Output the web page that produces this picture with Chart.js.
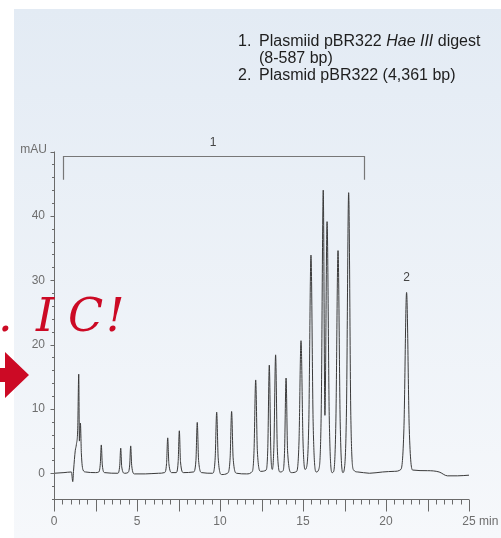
<!DOCTYPE html>
<html>
<head>
<meta charset="utf-8">
<script src="https://cdn.jsdelivr.net/npm/chart.js@4.4.1/dist/chart.umd.min.js"></script>
<style>
  html, body { margin: 0; padding: 0; background: #fff; }
  #wrap { width: 501px; height: 538px; }
</style>
</head>
<body>
<div id="wrap"><canvas id="chart" width="501" height="538"></canvas></div>
<script>
// retention time (min) and absorbance (mAU)
const times = [
  0.0, 0.6, 1.05, 1.13, 1.18, 1.28, 1.35, 1.43, 1.49, 1.53, 1.59, 1.65, 1.75, 1.9,
  2.5, 2.7, 2.79, 2.85, 2.91, 3.05,
  3.85, 3.96, 4.02, 4.08, 4.25, 4.45, 4.56, 4.62, 4.68, 4.85,
  5.5, 6.3, 6.65, 6.78, 6.85, 6.92, 7.1,
  7.35, 7.48, 7.55, 7.62, 7.8,
  8.4, 8.55, 8.63, 8.71, 8.9,
  9.55, 9.71, 9.8, 9.89, 10.1,
  10.45, 10.61, 10.7, 10.79, 11.0,
  11.6, 11.95, 12.05, 12.15, 12.25, 12.45,
  12.78, 12.88, 12.97, 13.06, 13.15, 13.25, 13.35, 13.45, 13.62,
  13.8, 13.89, 13.98, 14.07, 14.3,
  14.62, 14.76, 14.88, 15.0, 15.12,
  15.2, 15.35, 15.48, 15.61, 15.8,
  15.95, 16.1, 16.22, 16.32, 16.45, 16.58, 16.75,
  16.85, 16.98, 17.11, 17.24, 17.4,
  17.48, 17.62, 17.75, 17.88, 18.05,
  18.3, 19.0, 19.8, 20.5, 20.9, 21.08, 21.24, 21.4, 21.6,
  22.5, 23.2, 23.7, 24.3, 25.0
];
const signal = [
  0.0, 0.1, 0.2, -1.3, 0.5, 3.5, 4.5, 7.0, 15.4, 5.0, 7.8, 3.0, 0.5, 0.2,
  0.1, 0.2, 1.5, 4.4, 1.3, 0.1,
  0.0, 1.2, 3.9, 1.0, 0.0, 0.1, 1.3, 4.25, 1.2, -0.1,
  -0.1, 0.0, 0.1, 1.5, 5.5, 1.5, 0.1,
  0.1, 1.8, 6.6, 1.8, 0.1,
  0.2, 2.0, 7.9, 2.0, 0.1,
  0.0, 2.4, 9.5, 2.4, -0.2,
  0.0, 2.4, 9.6, 2.4, 0.0,
  -0.1, 0.3, 3.5, 14.5, 3.5, 0.3,
  0.5, 4.0, 16.8, 3.5, 0.6, 4.5, 18.4, 4.0, 0.2,
  0.4, 3.5, 14.8, 3.5, 0.1,
  0.3, 5.0, 20.6, 5.0, 0.6,
  0.8, 8.0, 33.9, 8.0, 0.2,
  0.6, 10.0, 44.0, 9.0, 39.1, 9.0, 0.1,
  0.3, 8.0, 34.6, 8.0, 0.1,
  0.5, 10.0, 43.6, 9.0, 0.5,
  0.2, 0.0, 0.2, 0.3, 0.6, 7.0, 28.1, 7.0, 0.5,
  0.4, 0.2, -0.4, -0.4, -0.3
];

const xLabelValues = [0, 5, 10, 15, 20, 25];
const yLabelValues = [0, 10, 20, 30, 40];
const legendLines = [
  ['1.', 'Plasmiid pBR322 ', 'Hae III', ' digest'],
  ['', '(8-587 bp)', '', ''],
  ['2.', 'Plasmid pBR322 (4,361 bp)', '', '']
];
const groupBracket = [0.55, 18.65];   // fragment group 1, min
const peakLabelText = ['1', '2'];
const peakLabelTime = [9.58, 21.24];

const FONT = '"Liberation Sans", Arial, sans-serif';

const decor = {
  id: 'decor',
  beforeDraw(chart) {
    const c = chart.ctx;
    c.save();
    const g = c.createLinearGradient(0, 9, 0, 538);
    g.addColorStop(0, '#e3ebf4');
    g.addColorStop(1, '#f6f8fb');
    c.fillStyle = g;
    c.fillRect(14, 9, 487, 529);
    c.restore();
  },
  afterDraw(chart) {
    const c = chart.ctx;
    const xs = chart.scales.x, ys = chart.scales.y;
    const x0 = xs.getPixelForValue(0), x1 = xs.getPixelForValue(25);
    const yTop = ys.getPixelForValue(50), yBot = ys.getPixelForValue(-4);
    c.save();
    c.strokeStyle = '#6a6a6a';
    c.lineWidth = 1;
    // axis lines
    c.beginPath();
    c.moveTo(Math.round(x0) + 0.5, yTop);
    c.lineTo(Math.round(x0) + 0.5, yBot);
    c.moveTo(x0, Math.round(yBot) + 0.5);
    c.lineTo(x1, Math.round(yBot) + 0.5);
    c.stroke();
    // y ticks every 2 mAU
    c.beginPath();
    for (let v = -4; v <= 50; v += 2) {
      const y = Math.round(ys.getPixelForValue(v)) + 0.5;
      const len = v % 10 === 0 ? 4 : 2.5;
      c.moveTo(Math.round(x0) + 0.5, y);
      c.lineTo(Math.round(x0) + 0.5 - len, y);
    }
    // x ticks every 0.5 min
    for (let i = 0; i <= 50; i++) {
      const t = i * 0.5;
      const x = Math.round(xs.getPixelForValue(t)) + 0.5;
      const len = i % 5 === 0 ? 12 : 5;
      c.moveTo(x, Math.round(yBot) + 0.5);
      c.lineTo(x, Math.round(yBot) + 0.5 + len);
    }
    c.stroke();

    // tick labels
    c.fillStyle = '#6e6e6e';
    c.font = '12px ' + FONT;
    c.textAlign = 'right';
    c.textBaseline = 'middle';
    yLabelValues.forEach(v => c.fillText(String(v), x0 - 9, ys.getPixelForValue(v)));
    c.fillText('mAU', x0 - 7, ys.getPixelForValue(50) - 2);
    c.textAlign = 'center';
    xLabelValues.forEach(t => {
      const x = xs.getPixelForValue(t);
      if (t === 25) {
        c.textAlign = 'left';
        c.fillText('25 min', x - c.measureText('25').width / 2, yBot + 23);
      } else {
        c.fillText(String(t), x, yBot + 23);
      }
    });

    // bracket for group 1
    const bx0 = Math.round(xs.getPixelForValue(groupBracket[0])) + 0.5;
    const bx1 = Math.round(xs.getPixelForValue(groupBracket[1])) + 0.5;
    const by0 = Math.round(ys.getPixelForValue(49.3)) + 0.5;
    const by1 = ys.getPixelForValue(45.6);
    c.strokeStyle = '#777';
    c.lineWidth = 1.2;
    c.beginPath();
    c.moveTo(bx0, by1); c.lineTo(bx0, by0); c.lineTo(bx1, by0); c.lineTo(bx1, by1);
    c.stroke();

    // peak labels
    c.fillStyle = '#444';
    c.font = '12px ' + FONT;
    c.textAlign = 'center';
    c.textBaseline = 'middle';
    c.fillText(peakLabelText[0], xs.getPixelForValue(peakLabelTime[0]), 143);
    c.fillText(peakLabelText[1], xs.getPixelForValue(peakLabelTime[1]), ys.getPixelForValue(30.4));

    // legend block
    c.fillStyle = '#1e1e1e';
    c.textAlign = 'left';
    c.textBaseline = 'alphabetic';
    legendLines.forEach((ln, i) => {
      const y = 46 + i * 17;
      c.font = '16px ' + FONT;
      c.fillText(ln[0], 238, y);
      let x = 259;
      c.fillText(ln[1], x, y); x += c.measureText(ln[1]).width;
      if (ln[2]) {
        c.font = 'italic 16px ' + FONT;
        c.fillText(ln[2], x, y); x += c.measureText(ln[2]).width;
        c.font = '16px ' + FONT;
        c.fillText(ln[3], x, y);
      }
    });

    // red hand annotation and arrow
    c.fillStyle = '#cc0a25';
    c.font = 'italic 46px "DejaVu Serif", serif';
    c.textAlign = 'left';
    c.fillText('.', -2, 331);
    c.fillText('I', 36, 331);
    c.fillText('C', 68, 331);
    c.fillText('!', 106, 331);
    c.beginPath();
    c.moveTo(0, 368); c.lineTo(5, 368); c.lineTo(5, 352); c.lineTo(29, 375);
    c.lineTo(5, 398); c.lineTo(5, 382); c.lineTo(0, 382);
    c.closePath();
    c.fill();
    c.restore();
  }
};

new Chart(document.getElementById('chart'), {
  type: 'line',
  data: {
    datasets: [{
      data: times.map((t, i) => ({ x: t, y: signal[i] })),
      borderColor: '#3a3a3a',
      borderWidth: 1,
      pointRadius: 0,
      fill: false,
      cubicInterpolationMode: 'monotone'
    }]
  },
  options: {
    responsive: false,
    animation: false,
    devicePixelRatio: 1,
    layout: { padding: { left: 54, right: 32, top: 151.5, bottom: 39 } },
    plugins: { legend: { display: false }, tooltip: { enabled: false } },
    scales: {
      x: { type: 'linear', min: 0, max: 25, display: false },
      y: { type: 'linear', min: -4, max: 50, display: false }
    }
  },
  plugins: [decor]
});
</script>
</body>
</html>
